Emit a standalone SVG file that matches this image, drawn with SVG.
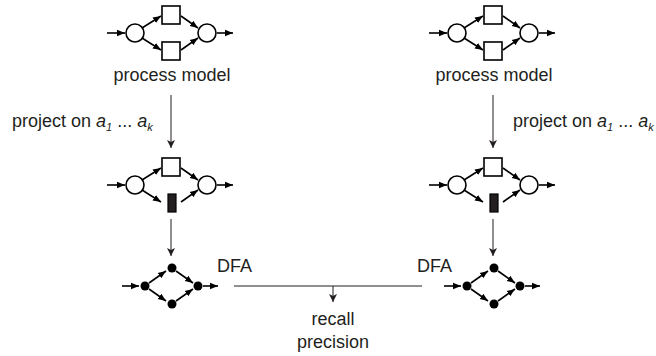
<svg xmlns="http://www.w3.org/2000/svg" width="656" height="356" viewBox="0 0 656 356">
<defs>
<marker id="ah" markerUnits="userSpaceOnUse" markerWidth="8" markerHeight="8" viewBox="0 0 8 8" refX="8" refY="4" orient="auto"><path d="M0,0.8 L8,4 L0,7.2 Z" fill="#000"/></marker>
<marker id="av" markerUnits="userSpaceOnUse" markerWidth="8" markerHeight="10" viewBox="0 0 8 10" refX="8" refY="5" orient="auto"><path d="M0,1 L8,5 L0,9 L2,5 Z" fill="#231f20"/></marker>
<g id="net">
<line class="e" x1="107" y1="33" x2="125" y2="33"/>
<line class="e" x1="142" y1="28" x2="161" y2="16"/>
<line class="e" x1="181" y1="16" x2="198" y2="28"/>
<line class="e" x1="142" y1="38" x2="161" y2="50"/>
<line class="e" x1="181" y1="50" x2="198" y2="38"/>
<line class="e" x1="217" y1="33" x2="233" y2="33"/>
<circle class="p" cx="135" cy="33" r="9"/>
<circle class="p" cx="207" cy="33" r="9"/>
</g>
<g id="dfa">
<line class="e" x1="122" y1="286" x2="139" y2="286"/>
<line class="e" x1="149" y1="283" x2="166" y2="271"/>
<line class="e" x1="176" y1="271" x2="193" y2="283"/>
<line class="e" x1="149" y1="289" x2="166" y2="301"/>
<line class="e" x1="176" y1="301" x2="193" y2="289"/>
<line class="e" x1="203" y1="286" x2="218" y2="286"/>
<circle class="s" cx="145" cy="286" r="4.5"/>
<circle class="s" cx="172" cy="268" r="4.5"/>
<circle class="s" cx="198" cy="286" r="4.5"/>
<circle class="s" cx="172" cy="304" r="4.5"/>
</g>
</defs>
<style>
.e{fill:none;stroke:#000;stroke-width:1.6;marker-end:url(#ah)}
.p{fill:#fff;stroke:#000;stroke-width:1.6}
.t{fill:#fff;stroke:#000;stroke-width:1.6}
.b{fill:#231f20;stroke:#000;stroke-width:1.2}
.c{fill:none;stroke:#231f20;stroke-width:1;marker-end:url(#av)}
.s{fill:#000}
text{font-family:"Liberation Sans",Arial,sans-serif;font-size:18px;fill:#231f20}
.m{text-anchor:middle}
</style>

<g id="model-left">
<use href="#net"/>
<rect class="t" x="162" y="6" width="18" height="18"/>
<rect class="t" x="162" y="42" width="18" height="18"/>
<text class="m" x="172" y="81">process model</text>
</g>

<g id="model-right" transform="translate(322,0)">
<use href="#net"/>
<rect class="t" x="162" y="6" width="18" height="18"/>
<rect class="t" x="162" y="42" width="18" height="18"/>
<text class="m" x="172" y="81">process model</text>
</g>

<g id="label-left">
<text x="12" y="127">project on <tspan font-style="italic">a</tspan><tspan font-size="11" font-style="italic" dy="4">1</tspan><tspan dy="-4"> ... </tspan><tspan font-style="italic">a</tspan><tspan font-size="11" font-style="italic" dy="4">k</tspan></text>
</g>
<g id="label-right">
<text x="513" y="127">project on <tspan font-style="italic">a</tspan><tspan font-size="11" font-style="italic" dy="4">1</tspan><tspan dy="-4"> ... </tspan><tspan font-style="italic">a</tspan><tspan font-size="11" font-style="italic" dy="4">k</tspan></text>
</g>

<g id="projected-left" transform="translate(0,152)">
<use href="#net"/>
<rect class="t" x="162" y="6" width="18" height="18"/>
<rect class="b" x="168" y="42" width="8" height="18"/>
</g>

<g id="projected-right" transform="translate(322,152)">
<use href="#net"/>
<rect class="t" x="162" y="6" width="18" height="18"/>
<rect class="b" x="168" y="42" width="8" height="18"/>
</g>

<g id="dfa-left">
<use href="#dfa"/>
<text x="217" y="272">DFA</text>
</g>

<g id="dfa-right">
<use href="#dfa" transform="translate(322,0)"/>
<text x="417" y="272">DFA</text>
</g>

<g id="result">
<text class="m" x="333" y="325">recall</text>
<text class="m" x="333" y="348">precision</text>
</g>

<g id="connectors">
<path class="c" d="M171,95 V148"/>
<path class="c" d="M493,95 V148"/>
<path class="c" d="M171,219 V256"/>
<path class="c" d="M493,219 V256"/>
<path d="M234,286 H422" fill="none" stroke="#231f20" stroke-width="1"/>
<path class="c" d="M333,286 V302"/>
</g>
</svg>
